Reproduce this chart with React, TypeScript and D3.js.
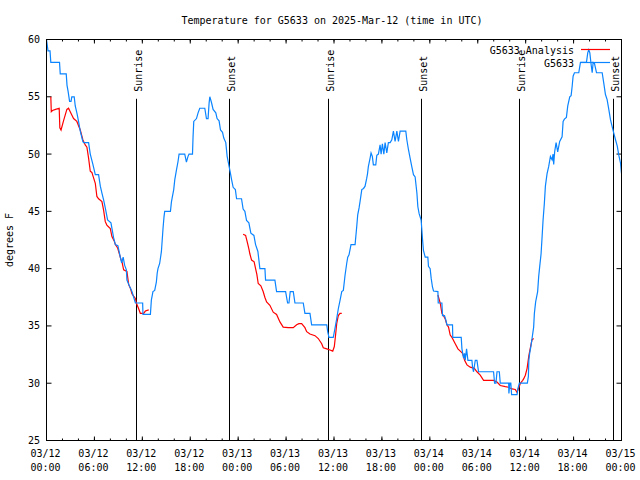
import React from "react";
import * as d3 from "d3";

// ---- data ----
const startTime = Date.UTC(2025, 2, 12, 0, 0);
const yTicks = [25, 30, 35, 40, 45, 50, 55, 60];

// G5633 observations (hours since 03/12 00:00 UTC, °F)
const blueHours = [
  0, 0.19, 0.44, 0.54, 1.63, 1.72, 2.47, 2.57, 2.7, 2.89, 3.07, 3.17, 3.47, 3.6, 3.83, 4.01, 4.23, 4.55, 4.64, 5.27,
  5.48, 5.81, 6.11, 6.52, 6.74, 6.94, 7.15, 7.36, 7.65, 8.07, 8.4, 8.62, 8.94, 9.24, 9.41, 9.6, 9.78, 10.0, 10.07, 10.5,
  10.7, 11.13, 12.04, 12.08, 13.01, 13.13, 13.33, 13.55, 13.76, 13.86, 13.96, 14.17, 14.39, 14.59, 14.71, 14.8, 15.52,
  15.64, 15.77, 15.93, 16.06, 16.27, 16.47, 16.6, 17.31, 17.52, 17.72, 17.85, 18.28, 18.35, 18.44, 18.78, 18.98, 19.19,
  19.82, 20.03, 20.23, 20.36, 20.45, 20.66, 20.86, 21.2, 21.36, 21.61, 21.79, 22.04, 22.2, 22.45, 22.62, 22.87, 23.04,
  23.17, 23.37, 23.65, 23.8, 24.42, 24.62, 24.84, 25.05, 25.34, 25.59, 25.97, 26.18, 26.47, 26.72, 27.35, 27.43, 28.6,
  28.81, 29.94, 30.19, 30.36, 30.52, 30.9, 31.11, 32.15, 32.36, 32.99, 33.2, 35.09, 35.21, 35.37, 35.91, 36.13, 36.34,
  36.54, 36.75, 36.97, 37.17, 37.38, 37.59, 37.72, 37.88, 38.13, 38.64, 38.85, 38.97, 39.14, 39.26, 39.48, 39.7, 39.89,
  40.1, 40.2, 40.3, 40.52, 40.64, 40.8, 40.93, 41.23, 41.36, 41.56, 41.77, 41.9, 42.06, 42.24, 42.4, 42.61, 42.81,
  43.03, 43.24, 43.44, 43.65, 43.87, 44.07, 44.28, 44.99, 45.12, 45.32, 45.53, 45.74, 45.95, 46.16, 46.38, 46.5, 46.66,
  46.91, 47.0, 47.08, 47.2, 47.42, 47.75, 47.83, 48.04, 48.17, 48.33, 48.46, 49.01, 49.05, 49.51, 49.59, 49.84, 50.01,
  50.14, 50.84, 50.87, 51.93, 52.02, 52.22, 52.35, 52.43, 52.6, 52.77, 53.27, 53.35, 53.47, 53.69, 53.9, 54.1, 55.98,
  56.11, 56.28, 56.41, 56.7, 56.82, 57.87, 57.9, 58.02, 58.14, 58.24, 58.92, 59.02, 59.21, 60.21, 60.34, 60.4, 60.5,
  60.65, 60.8, 61.0, 61.09, 61.25, 61.5, 61.63, 61.76, 61.93, 62.06, 62.18, 62.34, 62.47, 62.68, 62.88, 63.1, 63.31,
  63.43, 63.51, 63.63, 63.81, 64.01, 64.26, 64.56, 64.69, 64.85, 65.1, 65.27, 65.52, 65.69, 65.82, 65.94, 66.11, 66.65,
  66.86, 67.61, 67.78, 67.9, 68.03, 68.2, 68.33, 68.45, 68.62, 68.87, 69.58, 69.78, 69.99, 70.2, 70.41, 70.62, 70.83,
  71.04, 71.25, 71.47, 71.66, 71.88, 72.0,
];
const blueTemps = [
  60, 59, 59, 58, 58, 57, 57, 56, 55.5, 54.6, 54.6, 55, 55, 54.2, 53.5, 52.85, 52, 51.1, 51, 51,
  50, 49.1, 48.2, 48.2, 47.2, 46.6, 46, 45.3, 44.25, 44, 42.7, 42.1, 42, 41, 40.5, 41, 40.3, 39.9, 39, 38.3,
  38, 37, 37, 36, 36, 37.25, 38, 38.1, 38.85, 39.6, 40, 40.45, 41.5, 43.5, 44.5, 45, 45,
  45.8, 46.3, 46.9, 47.75, 48.6, 49.35, 50, 50, 49.3, 49.8, 50, 50, 51.5, 52.85, 53.1, 53.6, 54,
  54, 53.1, 53.1, 54.45, 55, 54.5, 53.9, 53.6, 53.1, 52.9, 52.1, 51.9, 51.4, 51, 49.8, 48.9, 48.3,
  47.8, 47.1, 46.9, 46.1, 46.1, 45.2, 45, 44.2, 44, 43.1, 42.9, 42.1, 41.5, 40, 40, 39, 39,
  38, 38, 37, 37, 38, 38, 37, 37, 36.1, 36.1, 35.1, 35.1, 34.5, 34, 34, 34.8, 35.65,
  36.5, 37.2, 38, 38.1, 39.4, 40.45, 41, 41.2, 42.1, 42.1, 43.7, 44.7, 45.3, 45.85, 46.9, 47, 47.2,
  47.9, 48.3, 48.9, 49.65, 50.1, 49.8, 49.06, 49.06, 49.9, 50, 50.8, 50, 50.9, 50, 51, 50.1, 51,
  51, 51.25, 52, 51.1, 52, 51.1, 52, 52, 51.25, 50.4, 49.65, 48.9, 48.2, 48, 46.6, 45.4, 44.8,
  44.25, 43.4, 42.6, 41.6, 41, 41, 40.2, 40, 39.15, 38.4, 38.05, 38, 37, 37, 35.9, 35.9, 35.5,
  35.1, 35.1, 34, 34, 33, 32.2, 32.6, 32, 33, 32, 32, 31.4, 31, 32, 32, 31, 31,
  30, 30, 31, 31, 30, 30, 29.1, 30, 30, 29, 29, 29.5, 30, 30, 30.6, 32, 32.6,
  33.2, 33.9, 34.9, 36.1, 37.1, 38, 39.3, 40.2, 41.3, 42.8, 44.25, 45.7, 47.2, 48.3, 48.9, 49.8, 49.5,
  50, 49.1, 50.2, 51, 50.2, 51.1, 51.5, 52.85, 53.05, 53.2, 54.2, 55, 55.1, 55.9, 56.8, 57.1, 57.1,
  58, 58, 58.85, 59.1, 58.85, 57.8, 57.1, 58, 57.9, 57.1, 57.1, 56.2, 55.2, 54.75, 53.9, 53, 52.4,
  51.8, 51.25, 50.7, 49.9, 49.2, 48.3,
];

// G5633 Analysis (null = gap)
const redHours = [
  0.54, 0.6, 0.75, 1.13, 1.59, 1.67, 1.82, 2.13, 2.55, 2.76, 2.97, 3.39, 3.8, 4.23, 4.55, 4.85, 5.06, 5.27, 5.48, 5.68,
  6.11, 6.31, 6.52, 6.94, 7.15, 7.36, 7.56, 7.99, 8.19, 8.49, 8.62, 8.91, 9.16, 9.32, 9.45, 9.66, 10.07, 10.29, 10.5,
  10.7, 10.91, 11.13, 11.25, 11.54, 11.75, 12.17, 12.38, 12.8,
  null,
  24.62, 24.93, 25.18, 25.38, 25.46, 25.68, 26.0, 26.18, 26.34, 26.51, 26.84, 27.13, 27.34, 27.56, 27.97, 28.39, 28.81,
  29.23, 29.64, 30.27, 30.9, 31.32, 31.61, 31.95, 32.36, 32.58, 32.99, 33.62, 34.03, 34.46, 34.66, 35.09, 35.5, 35.84,
  36.04, 36.21, 36.34, 36.54, 36.75, 36.97,
  null,
  49.01, 49.3, 49.51, 49.71, 49.93, 50.14, 50.34, 50.55, 50.77, 51.18, 51.52, 51.81, 52.1, 52.35, 52.65, 53.06, 53.57,
  53.9, 54.31, 54.73, 55.98, 56.41, 56.82, 57.45, 57.87, 58.29, 58.7, 58.92, 59.13, 59.34, 59.63, 59.76, 59.96, 60.18,
  60.4, 60.65, 60.8, 61.0,
];
const redTemps = [
  55, 53.7, 53.8, 53.9, 54, 52.3, 52.1, 52.9, 53.9, 54, 53.7, 53.1, 52.85, 52.1, 51.25, 50.8, 50.6, 49.65, 48.5, 48.4,
  47.45, 46.3, 46.1, 45.85, 45.1, 44.1, 43.8, 43.5, 42.8, 42.4, 42.1, 41.8, 41.2, 40.8, 40.6, 39.9, 39.75, 38.6, 38.3,
  37.8, 37.6, 37.4, 37, 36.5, 36.1, 36.1, 36.3, 36.4,
  null,
  43, 42.9, 42.2, 41.6, 41.3, 40.75, 40.6, 40, 39.5, 38.7, 38.5, 38, 37.5, 37.1, 36.8, 36.2, 36,
  35.35, 34.9, 34.85, 34.85, 35.1, 35.2, 35.2, 34.85, 34.5, 34.3, 34.15, 33.9, 33.45, 33.1, 33, 32.9, 32.8,
  33.2, 34.3, 35.2, 35.9, 36.1, 36.1,
  null,
  37.7, 37, 36.1, 35.9, 35.6, 35.1, 34.9, 34.2, 34, 33.45, 33, 32.8, 32.6, 32, 31.6, 31.4, 31.3,
  31, 30.7, 30.25, 30.25, 30.1, 29.8, 29.7, 29.65, 29.5, 29.45, 29.2, 29.6, 30, 30.25, 30.4, 30.7, 31.3,
  32.4, 33.3, 33.8, 33.9,
];

const sunHours = [11.27, 22.92, 35.31, 46.96, 59.23, 71.0];
const sunLabels = ["Sunrise", "Sunset", "Sunrise", "Sunset", "Sunrise", "Sunset"];

const seriesNames = ["G5633 Analysis", "G5633"];
const seriesColors = ["#ff0000", "#0a84ff"];

// ---- layout ----
const W = 640;
const H = 480;
const left = 46.5;
const right = 621.5;
const top = 39.5;
const bottom = 440.5;
const FONT = "'DejaVu Sans Mono', 'Liberation Mono', monospace";

const hourMs = 3600 * 1000;
const toDate = (h: number) => new Date(startTime + h * hourMs);

export default function App() {
  const x = d3.scaleUtc().domain([toDate(0), toDate(72)]).range([left, right]);
  const y = d3.scaleLinear().domain([25, 60]).range([bottom, top]);

  const majorTicks = d3.utcHour.every(6)!.range(toDate(0), toDate(72.01));
  const minorTicks = d3.utcHour.every(2)!.range(toDate(0), toDate(72.01));
  const fmtDate = d3.utcFormat("%m/%d");
  const fmtTime = d3.utcFormat("%H:%M");

  const bluePts = blueHours.map((h, i) => [h, blueTemps[i]] as [number, number]);
  const redPts = redHours.map((h, i) => [h, redTemps[i]] as [number | null, number | null]);

  const blueLine = d3
    .line<[number, number]>()
    .x((d) => x(toDate(d[0])))
    .y((d) => y(d[1]));
  const redLine = d3
    .line<[number | null, number | null]>()
    .defined((d) => d[0] !== null && d[1] !== null)
    .x((d) => x(toDate(d[0] as number)))
    .y((d) => y(d[1] as number));

  const sunTop = y(55) + 2;

  return (
    <svg width={W} height={H} style={{ position: "absolute", left: 0, top: 0, background: "#fff" }}
      fontFamily={FONT} fontSize={10}>
      <rect x={0} y={0} width={W} height={H} fill="#fff" />
      <text x={332} y={24} textAnchor="middle" fill="#000">
        Temperature for G5633 on 2025-Mar-12 (time in UTC)
      </text>

      {/* y ticks */}
      {yTicks.map((t) => (
        <g key={"y" + t}>
          <line x1={left} x2={left + 5} y1={y(t)} y2={y(t)} stroke="#000" />
          <line x1={right - 5} x2={right} y1={y(t)} y2={y(t)} stroke="#000" />
          <text x={40} y={y(t)} dy="0.35em" textAnchor="end" fill="#000">{t}</text>
        </g>
      ))}

      {/* x ticks */}
      {minorTicks.map((d, i) => (
        <g key={"mx" + i}>
          <line x1={x(d)} x2={x(d)} y1={bottom} y2={bottom - 2} stroke="#000" />
          <line x1={x(d)} x2={x(d)} y1={top} y2={top + 2} stroke="#000" />
        </g>
      ))}
      {majorTicks.map((d, i) => (
        <g key={"x" + i}>
          <line x1={x(d)} x2={x(d)} y1={bottom} y2={bottom - 4} stroke="#000" />
          <line x1={x(d)} x2={x(d)} y1={top} y2={top + 4} stroke="#000" />
          <text x={x(d) - 1} y={457} textAnchor="middle" fill="#000">{fmtDate(d)}</text>
          <text x={x(d) - 1} y={471} textAnchor="middle" fill="#000">{fmtTime(d)}</text>
        </g>
      ))}

      <text transform={`translate(13,240) rotate(-90)`} textAnchor="middle" fill="#000">degrees F</text>

      {/* sunrise / sunset markers */}
      {sunHours.map((h, i) => {
        const sx = Math.round(x(toDate(h)) - 0.5) + 0.5;
        return (
          <g key={"s" + i}>
            <line x1={sx} x2={sx} y1={sunTop} y2={bottom} stroke="#000" />
            <text transform={`translate(${sx + 5},${y(55) - 5}) rotate(-90)`} textAnchor="start" fill="#000">
              {sunLabels[i]}
            </text>
          </g>
        );
      })}

      {/* series */}
      <path d={redLine(redPts) || ""} fill="none" stroke={seriesColors[0]} strokeWidth={1.2} />
      <path d={blueLine(bluePts) || ""} fill="none" stroke={seriesColors[1]} strokeWidth={1.2} />

      {/* legend */}
      {seriesNames.map((n, i) => (
        <g key={"l" + i}>
          <text x={574} y={54 + i * 13} textAnchor="end" fill="#000">{n}</text>
          <line x1={581} x2={610} y1={49.5 + i * 13} y2={49.5 + i * 13} stroke={seriesColors[i]} strokeWidth={1.2} />
        </g>
      ))}

      {/* frame */}
      <rect x={left} y={top} width={right - left} height={bottom - top} fill="none" stroke="#000" />
    </svg>
  );
}
